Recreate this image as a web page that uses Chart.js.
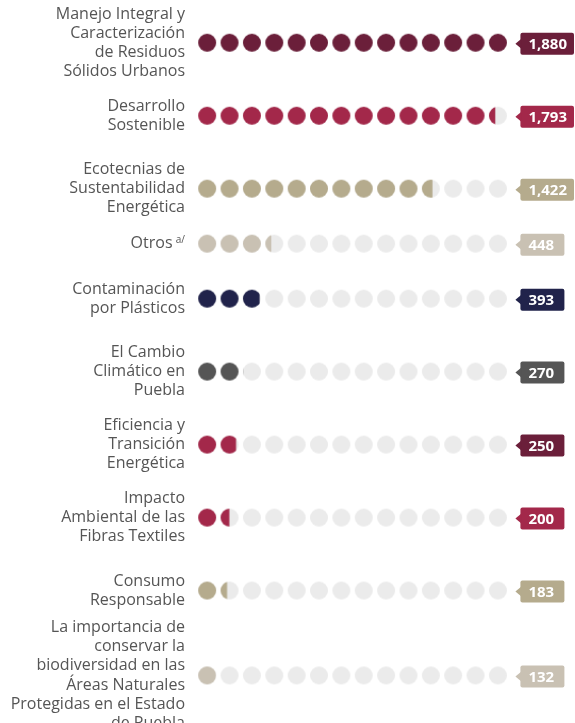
<!DOCTYPE html>
<html>
<head>
<meta charset="utf-8">
<script src="https://cdn.jsdelivr.net/npm/chart.js@4.4.1/dist/chart.umd.min.js"></script>
<style>
html,body{margin:0;padding:0;background:#fff;}
#wrap{width:575px;height:723px;}
</style>
</head>
<body>
<div id="wrap"><canvas id="dots"></canvas></div>
<script>
// temas (una linea por elemento)
const temas = [
  ["Manejo Integral y","Caracterización","de Residuos","Sólidos Urbanos"],
  ["Desarrollo","Sostenible"],
  ["Ecotecnias de","Sustentabilidad","Energética"],
  ["Otros"],
  ["Contaminación","por Plásticos"],
  ["El Cambio","Climático en","Puebla"],
  ["Eficiencia y","Transición","Energética"],
  ["Impacto","Ambiental de las","Fibras Textiles"],
  ["Consumo","Responsable"],
  ["La importancia de","conservar la","biodiversidad en las","Áreas Naturales","Protegidas en el Estado","de Puebla"]
];
const valores = [1880,1793,1422,448,393,270,250,200,183,132];
const etiquetas = ["1,880","1,793","1,422","448","393","270","250","200","183","132"];
const puntosPorFila = 14;

const colorPunto = ["#6b1f3a","#a3284a","#b5ab8d","#c9c1b3","#21234b","#555555","#a3284a","#a3284a","#b5ab8d","#c9c1b3"];
const colorCaja = ["#6b1f3a","#a3284a","#b5ab8d","#c9c1b3","#21234b","#555555","#6b1f3a","#a3284a","#b5ab8d","#c9c1b3"];
const gris = "#ebebeb";

const unidad = Math.max(...valores) / puntosPorFila;

// alto de cada fila segun numero de lineas
function alto(n){
  if(n === 1) return 37;
  return Math.max(73, n*19.3 - 19);
}
let centros = [];
let acum = 0;
temas.forEach((t,i) => {
  let h = alto(t.length);
  if(i === 0) acum = h/2;
  else acum += (alto(temas[i-1].length) + h)/2;
  centros.push(acum);
});

let puntos = [];
valores.forEach((v,r) => {
  for(let i=0;i<puntosPorFila;i++){
    puntos.push({x:i, y:centros[r]});
  }
});

let cache = {};
function dibujoPunto(color, f){
  f = Math.max(0, Math.min(1, f));
  let key = color + f.toFixed(3);
  if(cache[key]) return cache[key];
  let c = document.createElement("canvas");
  c.width = 20; c.height = 20;
  let g = c.getContext("2d");
  g.fillStyle = gris;
  g.beginPath(); g.arc(10,10,9,0,Math.PI*2); g.fill();
  if(f > 0){
    g.save();
    g.beginPath(); g.rect(0,0,1 + 18*f,20); g.clip();
    g.fillStyle = color;
    g.beginPath(); g.arc(10,10,9,0,Math.PI*2); g.fill();
    g.restore();
  }
  cache[key] = c;
  return c;
}

const cajas = {
  id:"cajas",
  afterDatasetsDraw(chart){
    let ctx = chart.ctx;
    let xs = chart.scales.x, ys = chart.scales.y;
    ctx.save();
    ctx.font = "bold 15px 'Open Sans'";
    ctx.textBaseline = "middle";
    valores.forEach((v,r) => {
      let y = ys.getPixelForValue(centros[r]) + 1;
      let tip = xs.getPixelForValue(puntosPorFila - 1) + 17.5;
      let left = tip + 5;
      let w = Math.max(44, ctx.measureText(etiquetas[r]).width + 15);
      ctx.fillStyle = colorCaja[r];
      ctx.beginPath();
      ctx.roundRect(left, y-11, w, 22, 2);
      ctx.fill();
      ctx.beginPath();
      ctx.moveTo(tip, y);
      ctx.lineTo(left+1, y-5);
      ctx.lineTo(left+1, y+5);
      ctx.closePath();
      ctx.fill();
      ctx.fillStyle = "#ffffff";
      ctx.textAlign = "left";
      ctx.fillText(etiquetas[r], left + 8, y + 1);
    });
    // superindice de Otros
    let yo = ys.getPixelForValue(centros[3]);
    ctx.font = "10px 'Open Sans'";
    ctx.fillStyle = "#555555";
    ctx.textAlign = "right";
    ctx.fillText("a/", ys.right - 11, yo - 4);
    ctx.restore();
  }
};

new Chart(document.getElementById("dots"), {
  type:"scatter",
  data:{
    datasets:[{
      data:puntos,
      pointStyle:(c) => {
        let r = Math.floor(c.dataIndex / puntosPorFila);
        let i = c.dataIndex % puntosPorFila;
        return dibujoPunto(colorPunto[r], valores[r]/unidad - i);
      },
      pointRadius:9,
      pointHoverRadius:9
    }]
  },
  options:{
    responsive:true,
    maintainAspectRatio:false,
    animation:false,
    events:[],
    layout:{padding:{top:5,right:5,bottom:0,left:0}},
    plugins:{legend:{display:false},tooltip:{enabled:false}},
    scales:{
      x:{
        type:"linear",
        display:false,
        min:-0.5,
        max:16
      },
      y:{
        type:"linear",
        reverse:true,
        min:3.75,
        max:707,
        grid:{display:false,drawTicks:false},
        border:{display:false},
        afterBuildTicks:(s) => { s.ticks = centros.map(v => ({value:v})); },
        afterFit:(s) => { s.width = 196; s.paddingTop = 0; s.paddingBottom = 0; },
        ticks:{
          autoSkip:false,
          padding:11,
          color:"#555555",
          font:{family:"'Open Sans'", size:16, lineHeight:1.2},
          callback:(v,i) => i === 3 ? ["Otros   "] : temas[i]
        }
      }
    }
  },
  plugins:[cajas]
});
</script>
</body>
</html>
